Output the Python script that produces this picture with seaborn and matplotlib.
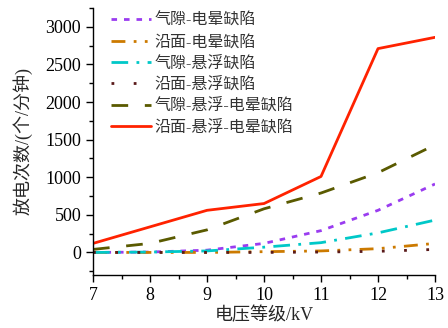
import matplotlib
matplotlib.use("Agg")
import matplotlib.pyplot as plt
import seaborn as sns
import pandas as pd
from matplotlib.ticker import MultipleLocator

voltage = [7, 8, 9, 10, 11, 12, 13]
labels = ["气隙-电晕缺陷", "沿面-电晕缺陷", "气隙-悬浮缺陷", "沿面-悬浮缺陷",
          "气隙-悬浮-电晕缺陷", "沿面-悬浮-电晕缺陷"]
gap_corona = [0, 5, 30, 120, 290, 560, 910]
surf_corona = [0, 0, 0, 10, 20, 50, 120]
gap_float = [0, 5, 20, 70, 130, 260, 430]
surf_float = [0, 0, 0, 0, 5, 15, 40]
gap_float_corona = [40, 120, 300, 580, 790, 1060, 1430]
surf_float_corona = [120, 340, 560, 650, 1010, 2710, 2860]

series = [gap_corona, surf_corona, gap_float, surf_float, gap_float_corona, surf_float_corona]
colors = ["#9a3cf0", "#cc7a00", "#00c8c8", "#5a1a1a", "#5a5a00", "#ff2200"]
dashes = [(2, 2.5), (5, 3, 1, 3, 1, 3), (6, 3, 1, 3), (1, 7), (6, 6), ""]

sns.set_theme(style="ticks")
plt.rcParams["font.family"] = ["Liberation Serif", "Noto Sans CJK SC"]
plt.rcParams["axes.unicode_minus"] = False

fig = plt.figure(figsize=(4.48, 3.28), dpi=100)
ax = fig.add_axes([0.2076, 0.1616, 0.7634, 0.814])

for lab, vals, c, d in zip(labels, series, colors, dashes):
    df = pd.DataFrame({"v": voltage, "n": vals})
    sns.lineplot(data=df, x="v", y="n", ax=ax, color=c, linewidth=2, label=lab)
    line = ax.get_lines()[-1]
    if d:
        line.set_dashes(d)

ax.set_xlim(7, 13)
ax.set_ylim(-300, 3250)
ax.xaxis.set_major_locator(MultipleLocator(1))
ax.xaxis.set_minor_locator(MultipleLocator(0.5))
ax.yaxis.set_major_locator(MultipleLocator(500))
ax.yaxis.set_minor_locator(MultipleLocator(250))
ax.tick_params(which="major", direction="out", length=5, width=1, labelsize=13, colors="black")
ax.tick_params(which="minor", direction="out", length=3, width=1, colors="black")
for s in ["top", "right"]:
    ax.spines[s].set_visible(False)
for s in ["left", "bottom"]:
    ax.spines[s].set_color("black")
    ax.spines[s].set_linewidth(1)

ax.set_xlabel("电压等级/kV", fontsize=13, labelpad=2)
ax.set_ylabel("放电次数/(个/分钟)", fontsize=13, labelpad=9)

leg = ax.legend(loc="upper left", frameon=False, fontsize=11.5, handlelength=2.5,
                handletextpad=0.2, labelspacing=0.33, borderaxespad=0.0,
                bbox_to_anchor=(0.035, 1.005))
for t in leg.get_texts():
    t.set_color("#333333")

fig.savefig("out.png", dpi=100)
